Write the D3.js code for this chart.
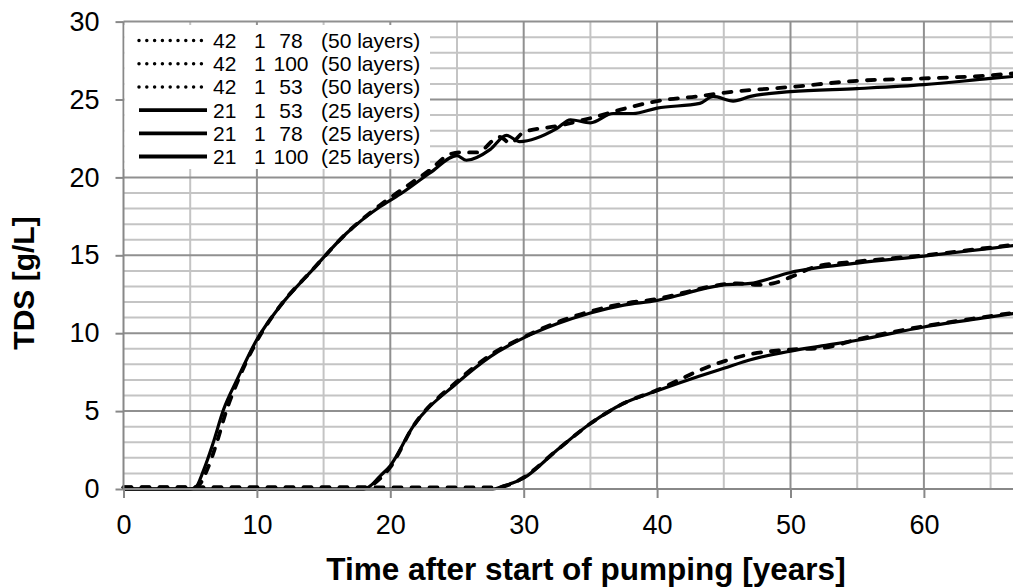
<!DOCTYPE html>
<html>
<head>
<meta charset="utf-8">
<script src="https://cdn.jsdelivr.net/npm/d3@7"></script>
<style>
	body { margin: 0; background: #fff; }
	svg { display: block; font-family: "Liberation Sans", Arial, sans-serif; }
	.tick text { fill: #000; }
</style>
</head>
<body>
<svg width="1013" height="588"></svg>
<script>
// TDS breakthrough curves
// curve A (first breakthrough)
const tA25 = [0, 5.0, 5.4, 6.0, 6.7, 7.5, 8.5, 10, 11.7, 14.2, 16.7, 19.2, 20.7, 23, 25, 25.7, 27.5, 28.7, 29.7, 32.5, 33.5, 35, 36.7, 38.2, 40, 43.2, 44.2, 45.7, 47, 50, 55, 60, 65, 67];
const vA25 = [0, 0, 0.1, 1.2, 2.9, 5.1, 7.0, 9.6, 11.7, 14.1, 16.4, 18.1, 18.9, 20.3, 21.4, 21.1, 21.8, 22.7, 22.3, 23.15, 23.7, 23.5, 24.1, 24.1, 24.45, 24.75, 25.2, 24.9, 25.2, 25.5, 25.7, 25.95, 26.35, 26.5];
const tA50 = [0, 5.2, 5.7, 6.3, 7.0, 7.7, 8.6, 10, 11.7, 14.2, 16.7, 19.2, 21, 23, 24.5, 25.3, 26.5, 28.2, 29, 30, 32.5, 35, 37.5, 40, 43, 45.7, 50, 55, 60, 65, 67];
const vA50 = [0.1, 0.1, 0.3, 1.3, 3.0, 5.0, 7.0, 9.5, 11.7, 14.1, 16.4, 18.2, 19.3, 20.5, 21.5, 21.6, 21.6, 22.6, 22.2, 22.9, 23.3, 23.8, 24.4, 24.9, 25.2, 25.5, 25.8, 26.2, 26.35, 26.55, 26.7];
// curve B
const tB25 = [0, 18.0, 18.5, 19.2, 20, 21.7, 25, 27.5, 30, 32.5, 35, 37.5, 40, 41.7, 43.2, 45, 47, 50, 55, 60, 65, 67];
const vB25 = [0, 0, 0.2, 0.8, 1.5, 4.0, 6.8, 8.5, 9.7, 10.6, 11.3, 11.8, 12.1, 12.45, 12.8, 13.1, 13.2, 13.9, 14.5, 14.95, 15.45, 15.65];
const tB50 = [0, 18.3, 19, 20, 21.7, 25, 27.5, 30, 32.5, 35, 37.5, 40, 42, 44, 46, 47.5, 48.7, 50, 52, 55, 60, 65, 67];
const vB50 = [0.1, 0.1, 0.5, 1.4, 4.0, 6.9, 8.6, 9.75, 10.7, 11.4, 11.9, 12.2, 12.6, 13.0, 13.2, 13.1, 13.2, 13.6, 14.3, 14.6, 15.0, 15.5, 15.7];
// curve C
const tC25 = [0, 27.7, 28.5, 30, 32.5, 35, 37.5, 40, 43.2, 45, 47, 50, 52.5, 55, 60, 65, 67];
const vC25 = [0, 0, 0.2, 0.7, 2.5, 4.2, 5.5, 6.3, 7.25, 7.75, 8.3, 8.85, 9.2, 9.55, 10.4, 11.05, 11.3];
const tC50 = [0, 28, 29, 30, 32.5, 35, 37.5, 40, 44, 46.7, 50, 52.4, 55, 60, 65, 67];
const vC50 = [0.1, 0.1, 0.3, 0.75, 2.5, 4.2, 5.5, 6.35, 7.9, 8.6, 8.95, 9.05, 9.6, 10.45, 11.1, 11.35];

const legendLabels = [
	["42", "1", "78", "(50 layers)"],
	["42", "1", "100", "(50 layers)"],
	["42", "1", "53", "(50 layers)"],
	["21", "1", "53", "(25 layers)"],
	["21", "1", "78", "(25 layers)"],
	["21", "1", "100", "(25 layers)"],
];
const legendDotted = [true, true, true, false, false, false];

const xTicks = [0, 10, 20, 30, 40, 50, 60];
const yTicks = [0, 5, 10, 15, 20, 25, 30];

const d3 = window.d3;
const left = 123.5;
const bottom = 489;
const xScale = d3.scaleLinear().domain([0, 70]).range([left, left + 70 * 13.34]);
const yScale = d3.scaleLinear().domain([0, 30]).range([bottom, bottom - 30 * 15.58]);
const svg = d3.select("svg");

function zip(t, v) {
	return t.map((d, i) => ({ t: d, v: v[i] }));
}

function drawGrid() {
	const g = svg.append("g");
	const xMinor = d3.range(5, 70, 10);
	const xMajor = d3.range(10, 70, 10);
	const yMinor = d3.range(1, 31).filter(d => d % 5 !== 0);
	const yMajor = d3.range(5, 31, 5);
	g.selectAll(".hmin").data(yMinor).join("line")
		.attr("x1", left).attr("x2", 1013)
		.attr("y1", d => yScale(d)).attr("y2", d => yScale(d))
		.attr("stroke", "#c4c4c4").attr("stroke-width", 2);
	g.selectAll(".vmin").data(xMinor).join("line")
		.attr("x1", d => xScale(d)).attr("x2", d => xScale(d))
		.attr("y1", yScale(30)).attr("y2", bottom)
		.attr("stroke", "#c4c4c4").attr("stroke-width", 2);
	g.selectAll(".hmaj").data(yMajor).join("line")
		.attr("x1", left).attr("x2", 1013)
		.attr("y1", d => yScale(d)).attr("y2", d => yScale(d))
		.attr("stroke", "#909090").attr("stroke-width", 2);
	g.selectAll(".vmaj").data(xMajor).join("line")
		.attr("x1", d => xScale(d)).attr("x2", d => xScale(d))
		.attr("y1", yScale(30)).attr("y2", bottom)
		.attr("stroke", "#909090").attr("stroke-width", 2);
}

function drawAxes() {
	const yAxis = svg.append("g")
		.attr("transform", `translate(${left},0)`)
		.call(d3.axisLeft(yScale).tickValues(yTicks).tickSize(8).tickPadding(16));
	const xAxis = svg.append("g")
		.attr("transform", `translate(0,${bottom})`)
		.call(d3.axisBottom(xScale).tickValues(xTicks).tickSize(9).tickPadding(17));
	[yAxis, xAxis].forEach(a => {
		a.select(".domain").attr("stroke", "#888").attr("stroke-width", 2);
		a.selectAll(".tick line").attr("stroke", "#888").attr("stroke-width", 2);
		a.selectAll(".tick text").attr("font-size", 27).attr("font-family", "Liberation Sans, Arial, sans-serif");
	});
	xAxis.select(".domain").attr("d", `M${left},0H1013`);
	yAxis.select(".domain").attr("d", `M0,${bottom}V${yScale(30)}`);

	svg.append("text")
		.attr("x", 586).attr("y", 580)
		.attr("text-anchor", "middle")
		.attr("font-size", 31.5).attr("font-weight", "bold")
		.text("Time after start of pumping [years]");
	svg.append("text")
		.attr("transform", "translate(34,283) rotate(-90)")
		.attr("text-anchor", "middle")
		.attr("font-size", 30).attr("font-weight", "bold")
		.text("TDS [g/L]");
}

function drawLines() {
	const line = d3.line()
		.x(d => xScale(d.t))
		.y(d => yScale(d.v))
		.curve(d3.curveMonotoneX);
	const plot = svg.append("g");
	[[tA25, vA25], [tB25, vB25], [tC25, vC25]].forEach(s => {
		plot.append("path")
			.datum(zip(s[0], s[1]))
			.attr("d", line)
			.style("fill", "none")
			.style("stroke", "#000")
			.style("stroke-width", 3.2);
	});
	[[tA50, vA50], [tB50, vB50], [tC50, vC50]].forEach(s => {
		plot.append("path")
			.datum(zip(s[0], s[1]))
			.attr("d", line)
			.style("fill", "none")
			.style("stroke", "#000")
			.style("stroke-width", 3.8)
			.style("stroke-linecap", "round")
			.style("stroke-dasharray", "8,10");
	});
}

function drawLegend() {
	const lg = svg.append("g");
	lg.append("rect")
		.attr("x", left + 1).attr("y", 25)
		.attr("width", 430 - left - 1).attr("height", 144)
		.attr("fill", "#fff");
	legendLabels.forEach((lab, i) => {
		const cy = 40.5 + 23.2 * i;
		const row = lg.append("g");
		row.append("line")
			.attr("x1", 139).attr("x2", 207)
			.attr("y1", cy).attr("y2", cy)
			.attr("stroke", "#000")
			.attr("stroke-width", legendDotted[i] ? 3.5 : 3.8)
			.attr("stroke-linecap", legendDotted[i] ? "round" : "butt")
			.attr("stroke-dasharray", legendDotted[i] ? "0,7.8" : null);
		const tx = row.append("g").attr("font-size", 21);
		tx.append("text").attr("x", 213).attr("y", cy + 7.5).text(lab[0]);
		tx.append("text").attr("x", 254).attr("y", cy + 7.5).text(lab[1]);
		tx.append("text").attr("x", 291).attr("y", cy + 7.5).attr("text-anchor", "middle").text(lab[2]);
		tx.append("text").attr("x", 321).attr("y", cy + 7.5).text(lab[3]);
	});
}

drawGrid();
drawLines();
drawAxes();
drawLegend();
</script>
</body>
</html>
